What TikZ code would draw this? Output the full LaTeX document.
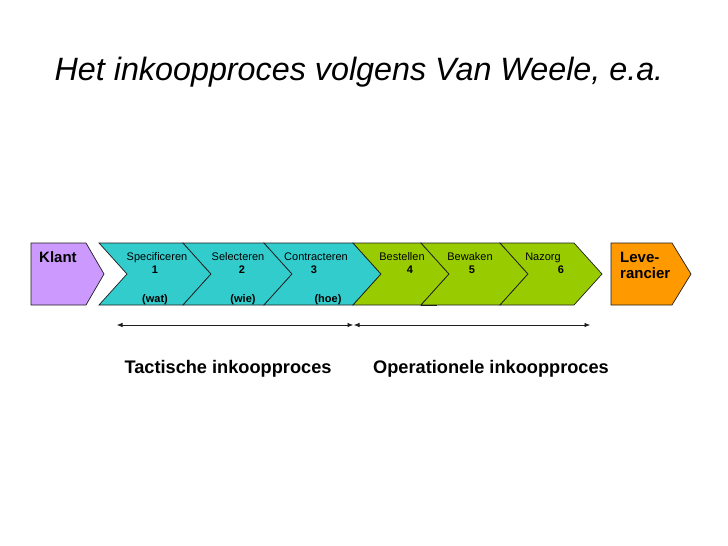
\documentclass[tikz,border=0pt]{standalone}
\usepackage{fontspec}
\setmainfont{Liberation Sans}
\usetikzlibrary{arrows.meta,positioning}
\definecolor{klantpurple}{RGB}{204,153,255}
\definecolor{tacticteal}{RGB}{51,204,204}
\definecolor{operagreen}{RGB}{153,204,0}
\definecolor{levorange}{RGB}{255,153,0}
\definecolor{edgegray}{RGB}{30,30,30}
% chevron: left x, right x, fill colour
\newcommand{\procchevron}[3]{%
  \filldraw[chevronedge, fill=#3]
    (#1,243) -- (#2,243) -- ++(28,31) -- (#2,305) -- (#1,305) -- ++(28,-31) -- cycle;}
\tikzset{
  chevronedge/.style={draw=edgegray, line width=0.7pt, line join=miter},
  steplabel/.style={anchor=base, inner sep=0pt, font=\fontsize{11}{13}\selectfont},
  stepnumber/.style={anchor=base, inner sep=0pt, font=\fontsize{11}{13}\selectfont\bfseries},
  partylabel/.style={anchor=north west, inner sep=0pt, align=left,
    font=\fontsize{15}{17}\selectfont\bfseries},
  spanarrow/.style={{Latex[length=5.5pt,width=4.5pt]}-{Latex[length=5.5pt,width=4.5pt]},
    draw=edgegray, line width=0.6pt},
  spanlabel/.style={anchor=base, inner sep=0pt, font=\fontsize{18.2}{21}\selectfont\bfseries},
  diagramtitle/.style={anchor=base, inner sep=0pt, font=\fontsize{32.3}{38}\selectfont\itshape},
}
\begin{document}
\begin{tikzpicture}[x=1pt, y=-1pt]
  \useasboundingbox[fill=white] (0,0) rectangle (728,546);

  \node[diagramtitle] (T) at (359,80) {Het inkoopproces volgens Van Weele, e.a.};

  %% Parties
  \filldraw[chevronedge, fill=klantpurple]
    (31,243) -- (86,243) -- (104,274) -- (86,305) -- (31,305) -- cycle;
  \filldraw[chevronedge, fill=levorange]
    (611,243) -- (672,243) -- (691,274) -- (672,305) -- (611,305) -- cycle;
  \node[partylabel] (klant) at (39,251) {Klant};
  \node[partylabel] (lev) at (620,252) {Leve-\\[-1pt]rancier};

  %% Process steps
  \procchevron{99}{183}{tacticteal}
  \procchevron{183}{264}{tacticteal}
  \procchevron{264}{353}{tacticteal}
  \procchevron{353}{421}{operagreen}
  \procchevron{421}{500}{operagreen}
  \procchevron{500}{574}{operagreen}
  \draw[draw=edgegray, line width=1.4pt] (421,305.5) -- (437,305.5);

  \node[steplabel] (s1) at (157,260) {Specificeren};
  \node[stepnumber] (n1) at (155,273) {1};
  \node[stepnumber] (w1) at (155,302) {(wat)};
  \node[steplabel] (s2) at (238,260) {Selecteren};
  \node[stepnumber] (n2) at (242,273) {2};
  \node[stepnumber] (w2) at (243,302) {(wie)};
  \node[steplabel] (s3) at (316,260) {Contracteren};
  \node[stepnumber] (n3) at (314,273) {3};
  \node[stepnumber] (w3) at (328,302) {(hoe)};
  \node[steplabel] (s4) at (402,260) {Bestellen};
  \node[stepnumber] (n4) at (410,273) {4};
  \node[steplabel] (s5) at (470,260) {Bewaken};
  \node[stepnumber] (n5) at (472,273) {5};
  \node[steplabel] (s6) at (543,260) {Nazorg};
  \node[stepnumber] (n6) at (561,273) {6};

  %% Spans
  \coordinate (tacL) at (117,325);
  \coordinate (tacR) at (353,325);
  \coordinate (opL) at (354,325);
  \coordinate (opR) at (590,325);
  \draw[spanarrow] (tacL) -- (tacR);
  \draw[spanarrow] (opL) -- (opR);
  \node[spanlabel] (tac) at (228,373) {Tactische inkoopproces};
  \node[spanlabel] (op) at (491,373) {Operationele inkoopproces};

\end{tikzpicture}
\end{document}
